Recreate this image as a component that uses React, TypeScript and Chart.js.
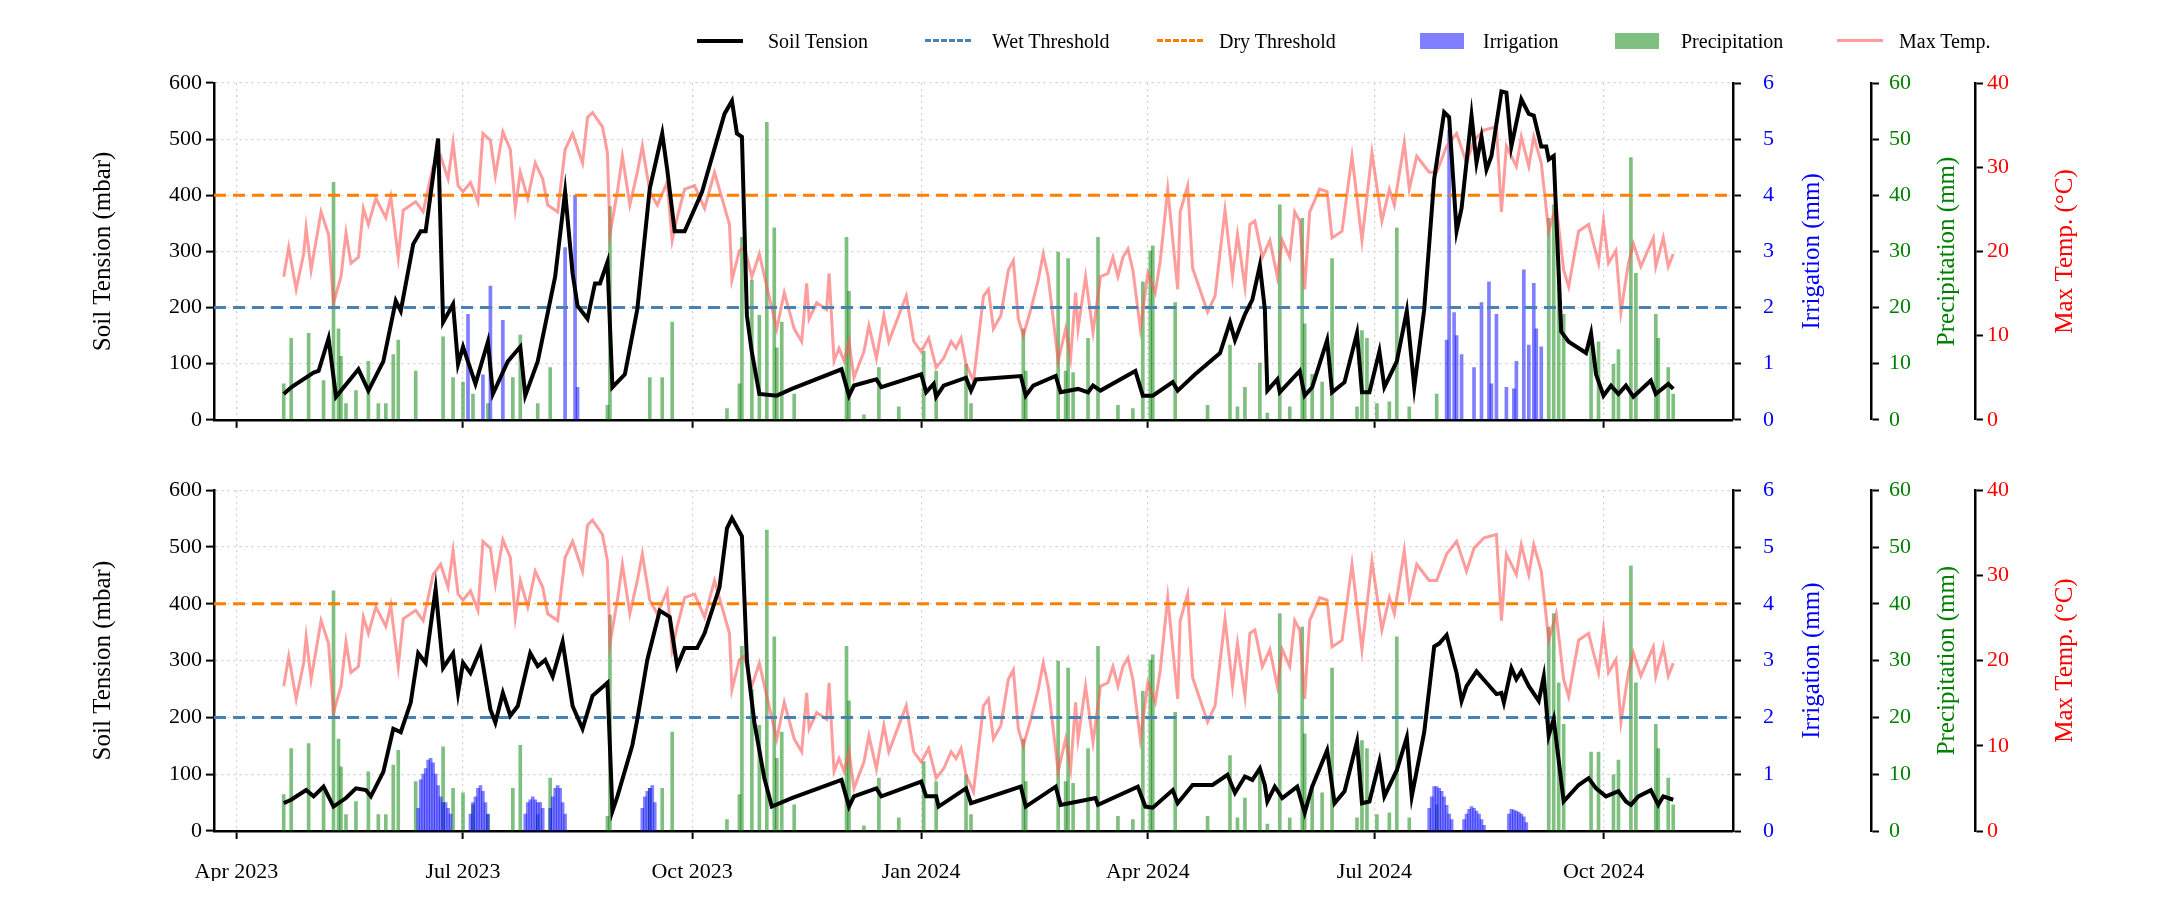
import React, { useEffect, useRef } from "react";
import { Chart, registerables } from "chart.js";
Chart.register(...registerables);

// day index: 0 = 1 Apr 2023
const X_TICK_DAYS = [0, 91, 183, 275, 366, 457, 549];
const X_TICK_LABELS = ["Apr 2023", "Jul 2023", "Oct 2023", "Jan 2024", "Apr 2024", "Jul 2024", "Oct 2024"];
const WET_THRESHOLD = 200;
const DRY_THRESHOLD = 400;

const soilTopDay = [19,22,31,33,37,40,49,53,59,64,66,71,74,76,81,83,87,89,91,96,101,103,109,114,116,121,128,132,135,137,141,144,146,149,151,156,161,166,171,173,176,180,187,196,199,201,203,205,207,210,217,223,243,246,248,257,259,275,277,280,281,284,293,295,297,315,317,320,329,331,338,342,344,347,361,364,368,376,378,385,395,399,401,405,408,411,413,414,418,419,427,429,432,438,440,445,450,452,455,459,461,466,470,473,477,481,485,487,490,492,496,498,500,502,504,508,510,512,516,519,521,524,526,527,529,532,535,542,544,546,549,552,555,558,561,568,570,575,577];
const soilTopVal = [46,58,84,87,145,41,90,52,104,212,194,313,336,336,501,174,206,99,130,64,139,46,104,130,43,104,255,406,261,203,180,243,243,281,58,81,197,412,510,446,336,336,406,545,568,510,504,186,120,46,43,55,90,43,61,72,58,81,49,64,41,61,75,52,72,78,43,61,78,49,55,49,61,52,87,43,43,67,52,81,119,174,142,188,214,275,197,52,72,49,87,43,58,142,49,67,154,49,49,122,58,104,194,58,197,429,548,539,336,377,542,458,504,446,470,585,583,487,571,545,542,487,487,464,470,157,139,119,154,81,43,61,46,61,41,70,46,64,55];

const soilBotDay = [19,22,28,31,35,39,44,48,52,54,59,63,66,70,73,76,80,83,87,89,91,94,98,102,104,107,110,113,118,121,124,127,131,135,139,143,149,151,153,159,161,165,170,174,177,180,185,188,194,197,199,203,205,208,212,215,223,243,246,248,257,259,275,277,281,282,293,295,315,317,329,331,338,345,346,362,365,368,376,378,384,392,398,401,405,408,411,413,414,417,420,426,429,432,438,441,445,450,452,455,459,461,466,470,472,477,481,483,486,490,492,494,498,502,506,508,509,512,514,516,519,523,525,527,529,533,539,543,546,550,555,558,560,563,568,571,573,577];
const soilBotVal = [49,55,72,61,78,43,58,75,72,61,104,180,174,226,313,296,426,287,313,243,296,278,319,214,191,243,203,220,313,290,301,272,333,220,180,238,261,35,61,151,197,301,388,377,290,322,322,348,429,533,551,519,300,191,93,43,58,90,43,61,75,61,87,61,61,43,75,49,78,43,78,46,52,58,46,78,43,41,72,49,81,81,99,67,96,90,110,81,52,78,58,78,32,78,142,49,70,157,49,52,122,61,107,165,61,174,325,330,345,278,229,255,281,261,241,243,226,287,267,281,255,229,272,168,197,52,81,93,75,61,70,52,46,61,72,46,61,55];

const tempDay = [19,21,24,27,28,30,34,37,39,42,44,46,49,51,53,56,60,62,65,67,72,75,79,82,85,87,89,91,94,97,99,102,104,107,110,112,114,117,120,123,125,129,132,135,139,141,143,147,149,150,153,155,158,161,163,166,169,173,175,177,180,184,188,192,198,199,202,204,207,210,213,217,220,224,227,229,230,233,237,238,240,242,244,246,248,252,254,257,260,262,266,269,272,275,278,281,284,287,289,291,293,296,300,302,304,307,310,312,314,316,319,322,324,326,330,333,335,337,338,341,344,347,350,352,354,356,358,360,363,366,369,371,374,378,379,382,384,390,393,397,400,402,405,407,409,412,415,418,420,423,425,427,429,431,435,438,440,444,448,452,456,460,463,465,469,471,474,479,482,486,490,494,497,501,506,508,510,514,516,519,521,524,527,530,533,535,539,543,547,549,551,554,556,559,561,564,569,570,573,575,577];
const tempVal = [17.0,20.5,15.5,19.7,22.8,17.8,24.7,22.0,13.9,17.0,22.2,18.6,19.3,25.1,23.2,26.3,24.0,26.5,19.3,24.9,25.9,24.7,30.1,31.3,28.6,32.9,27.8,27.1,28.2,25.9,34.0,33.2,29.0,34.2,32.1,25.1,29.4,26.3,30.5,28.6,25.5,24.7,32.1,34.0,30.5,35.9,36.5,34.8,31.7,22.0,27.1,31.3,25.5,29.4,32.5,27.1,25.5,28.2,21.3,24.0,27.4,27.8,25.1,29.4,23.2,16.6,20.1,20.5,17.0,19.7,15.8,10.8,15.1,10.8,9.3,16.2,12.0,13.9,13.1,17.4,7.0,8.5,7.0,9.3,5.0,8.1,11.2,7.3,12.4,9.3,12.4,14.7,9.3,8.1,9.7,6.2,7.3,9.3,8.5,9.7,6.6,4.6,14.7,15.5,10.8,12.4,17.8,18.9,12.0,10.0,13.1,16.6,19.7,17.0,7.0,10.8,7.3,15.1,10.8,17.0,10.4,17.0,17.4,19.3,17.0,19.3,20.3,17.8,10.8,17.4,15.1,18.9,27.4,15.5,24.7,27.8,18.0,12.8,14.7,24.9,17.0,22.0,15.8,23.2,23.6,19.3,21.3,17.0,21.3,19.3,24.7,23.6,15.5,24.7,27.4,27.1,21.6,22.4,31.3,21.3,31.7,23.6,27.4,25.5,32.9,27.4,31.3,29.4,29.4,32.5,34.0,30.5,33.2,34.4,34.8,24.7,32.5,30.1,33.6,30.1,33.6,30.5,22.4,25.5,17.8,15.8,22.4,23.2,18.6,23.6,18.6,20.1,12.8,18.6,20.9,18.2,21.6,18.2,21.6,18.2,19.7];

const precipDay = [19,22,29,35,39,41,42,44,48,53,57,60,63,65,72,83,87,91,95,101,111,114,121,126,149,150,166,171,175,197,202,203,207,210,213,216,217,219,224,245,246,252,258,266,276,281,293,295,316,317,330,333,334,336,342,346,354,360,364,367,368,377,390,399,402,405,411,414,419,423,428,429,432,436,440,450,452,454,458,463,466,471,482,527,529,531,533,544,547,553,555,560,562,570,571,575,577];
const precipVal = [6.4,14.5,15.4,7.0,42.3,16.2,11.3,2.9,5.2,10.4,2.9,2.9,11.6,14.2,8.7,14.8,7.5,6.7,4.6,2.9,7.5,15.1,2.9,9.3,2.6,38.0,7.5,7.5,17.4,2.0,6.4,32.5,24.9,18.6,53.0,34.2,12.8,17.4,4.6,32.5,22.9,0.9,9.3,2.3,12.2,8.7,9.9,2.9,16.2,8.7,29.9,8.7,28.7,8.4,14.5,32.5,2.6,2.0,24.6,30.1,31.0,20.9,2.6,13.3,2.3,5.8,10.1,1.2,38.3,2.3,35.9,17.1,8.1,6.7,28.7,2.3,15.9,14.5,2.9,3.2,34.2,2.3,4.6,35.9,38.3,26.1,18.8,13.9,13.9,9.9,12.5,46.7,26.1,18.8,14.5,9.3,4.6];

const irrTopDay = [93,99,102,107,132,136,137,486,487,489,490,492,497,500,503,504,506,510,513,514,517,519,521,522,524];
const irrTopVal = [1.88,0.8,2.38,1.77,3.07,4.0,0.58,1.42,5.16,1.91,1.5,1.16,0.93,2.09,2.46,0.64,1.88,0.58,0.55,1.04,2.67,1.33,2.43,1.62,1.3];

const irrBotDay = [73,74,75,76,77,78,79,80,81,82,83,84,85,86,94,95,96,97,98,99,100,101,116,117,118,119,120,121,122,123,126,127,128,129,130,131,132,163,164,165,166,167,168,479,480,481,482,483,484,485,486,487,488,493,494,495,496,497,498,499,500,501,511,512,513,514,515,516,517,518];
const irrBotVal = [0.4,0.9,1.0,1.1,1.25,1.28,1.2,1.0,0.8,0.6,0.5,0.5,0.4,0.3,0.3,0.5,0.6,0.75,0.8,0.7,0.5,0.3,0.3,0.5,0.55,0.6,0.55,0.5,0.5,0.4,0.4,0.6,0.75,0.8,0.75,0.5,0.3,0.4,0.6,0.7,0.75,0.8,0.5,0.4,0.6,0.78,0.78,0.75,0.7,0.6,0.45,0.3,0.2,0.2,0.3,0.38,0.43,0.4,0.35,0.3,0.2,0.1,0.3,0.38,0.37,0.35,0.33,0.3,0.25,0.15];

const FONT = "'Liberation Serif', 'Times New Roman', serif";
const X_MIN = -9, X_MAX = 601;
const pts = (d: number[], v: number[]) => d.map((x, i) => ({ x, y: v[i] }));

const rightTitles = {
  id: "rightTitles",
  afterDraw(chart: any) {
    const ctx = chart.ctx;
    const defs = [
      { id: "irr", text: "Irrigation (mm)", color: "#0000ff", off: 79 },
      { id: "pre", text: "Precipitation (mm)", color: "#008000", off: 76 },
      { id: "tmp", text: "Max Temp. (°C)", color: "#ff0000", off: 90 },
    ];
    defs.forEach((d) => {
      const s = chart.scales[d.id];
      if (!s) return;
      ctx.save();
      ctx.translate(s.left + d.off, (s.top + s.bottom) / 2);
      ctx.rotate(-Math.PI / 2);
      ctx.font = `25px ${FONT}`;
      ctx.fillStyle = d.color;
      ctx.textAlign = "center";
      ctx.textBaseline = "middle";
      ctx.fillText(d.text, 0, 0);
      ctx.restore();
    });
  },
};

function makeConfig(bottom: boolean): any {
  const soil = bottom ? pts(soilBotDay, soilBotVal) : pts(soilTopDay, soilTopVal);
  const irr = bottom ? pts(irrBotDay, irrBotVal) : pts(irrTopDay, irrTopVal);
  const tickFont = { family: FONT, size: 22 };
  const axisBorder = { color: "#000", width: 2.5, dash: [2, 4] };
  const rightAxis = (id: string, max: number, step: number, color: string, weight: number, width: number, pad: number) => ({
    type: "linear", position: "right", min: 0, max, weight,
    ticks: { stepSize: step, color, font: tickFont, padding: pad },
    grid: { drawOnChartArea: false, tickColor: "#000", tickLength: 8, tickWidth: 2 },
    border: { color: "#000", width: 2.5 },
    afterFit: (s: any) => { s.width = width; },
  });
  return {
    data: {
      datasets: [
        { type: "line", label: "Soil Tension", data: soil, yAxisID: "y", borderColor: "#000", borderWidth: 4, pointRadius: 0, order: 0 },
        { type: "line", label: "Wet Threshold", data: [{ x: X_MIN, y: WET_THRESHOLD }, { x: X_MAX, y: WET_THRESHOLD }], yAxisID: "y", borderColor: "#4682b4", borderWidth: 3, borderDash: [12, 7], pointRadius: 0, order: 1 },
        { type: "line", label: "Dry Threshold", data: [{ x: X_MIN, y: DRY_THRESHOLD }, { x: X_MAX, y: DRY_THRESHOLD }], yAxisID: "y", borderColor: "#ff8000", borderWidth: 3, borderDash: [12, 7], pointRadius: 0, order: 1 },
        { type: "line", label: "Max Temp.", data: pts(tempDay, tempVal), yAxisID: "tmp", borderColor: "rgba(255,90,90,0.6)", borderWidth: 3, pointRadius: 0, order: 2 },
        { type: "bar", label: "Irrigation", data: irr, yAxisID: "irr", backgroundColor: "rgba(0,0,255,0.5)", barThickness: 3, grouped: false, order: 3 },
        { type: "bar", label: "Precipitation", data: pts(precipDay, precipVal), yAxisID: "pre", backgroundColor: "rgba(0,128,0,0.5)", barThickness: 3, grouped: false, order: 4 },
      ],
    },
    options: {
      responsive: false,
      animation: false,
      layout: { padding: bottom ? { top: 28, bottom: 29, left: 84, right: 71 } : { top: 83, bottom: 12, left: 84, right: 71 } },
      plugins: { legend: { display: false }, tooltip: { enabled: false } },
      scales: {
        x: {
          type: "linear", min: X_MIN, max: X_MAX, offset: false,
          afterBuildTicks: (s: any) => { s.ticks = X_TICK_DAYS.map((v) => ({ value: v })); },
          ticks: { display: bottom, font: tickFont, color: "#000", padding: 20, maxRotation: 0, autoSkip: false,
            callback: (v: number) => X_TICK_LABELS[X_TICK_DAYS.indexOf(v)] ?? "" },
          grid: { offset: false, color: "#d0d0d0", lineWidth: 1.2, tickColor: "#000", tickLength: 8, tickWidth: 2, tickBorderDash: [] },
          border: axisBorder,
          afterFit: (s: any) => { s.height = bottom ? 50 : 12; },
        },
        y: {
          type: "linear", position: "left", min: 0, max: 600,
          ticks: { stepSize: 100, color: "#000", font: tickFont, padding: 4 },
          title: { display: true, text: "Soil Tension (mbar)", color: "#000", font: { family: FONT, size: 25 } },
          grid: { color: "#d0d0d0", lineWidth: 1.2, tickColor: "#000", tickLength: 8, tickWidth: 2, tickBorderDash: [] },
          border: axisBorder,
          afterFit: (s: any) => { s.width = 130; },
        },
        irr: rightAxis("irr", 6, 1, "#0000ff", 1, 138, 22),
        pre: rightAxis("pre", 60, 10, "#008000", 2, 104, 10),
        tmp: rightAxis("tmp", 40, 10, "#ff0000", 3, 120, 4),
      },
    },
    plugins: [rightTitles],
  };
}

function Panel({ bottom }: { bottom: boolean }) {
  const ref = useRef<HTMLCanvasElement>(null);
  useEffect(() => {
    const c = new Chart(ref.current!, makeConfig(bottom));
    return () => c.destroy();
  }, [bottom]);
  return <canvas ref={ref} width={2166} height={455} style={{ display: "block", width: 2166, height: 455 }} />;
}

const LEGEND = [
  { label: "Soil Tension", kind: "line", color: "#000", x: 697, tx: 768 },
  { label: "Wet Threshold", kind: "dash", color: "#4682b4", x: 925, tx: 992 },
  { label: "Dry Threshold", kind: "dash", color: "#ff8000", x: 1157, tx: 1219 },
  { label: "Irrigation", kind: "patch", color: "rgba(0,0,255,0.5)", x: 1420, tx: 1483 },
  { label: "Precipitation", kind: "patch", color: "rgba(0,128,0,0.5)", x: 1615, tx: 1681 },
  { label: "Max Temp.", kind: "line", color: "rgba(255,90,90,0.6)", x: 1837, tx: 1899 },
];

export default function App() {
  return (
    <div style={{ position: "fixed", left: 0, top: 0, width: 2166, height: 910, background: "#fff", fontFamily: FONT }}>
      <Panel bottom={false} />
      <Panel bottom={true} />
      {LEGEND.map((l) => (
        <React.Fragment key={l.label}>
          {l.kind === "patch" ? (
            <div style={{ position: "absolute", left: l.x, top: 33, width: 44, height: 16, background: l.color }} />
          ) : (
            <div style={{ position: "absolute", left: l.x, top: 39, width: 46, height: 0,
              borderTop: `${l.label === "Soil Tension" ? 4 : 3}px ${l.kind === "dash" ? "dashed" : "solid"} ${l.color}` }} />
          )}
          <div style={{ position: "absolute", left: l.tx, top: 28, fontSize: 20, lineHeight: "26px", color: "#000", whiteSpace: "nowrap" }}>{l.label}</div>
        </React.Fragment>
      ))}
    </div>
  );
}
